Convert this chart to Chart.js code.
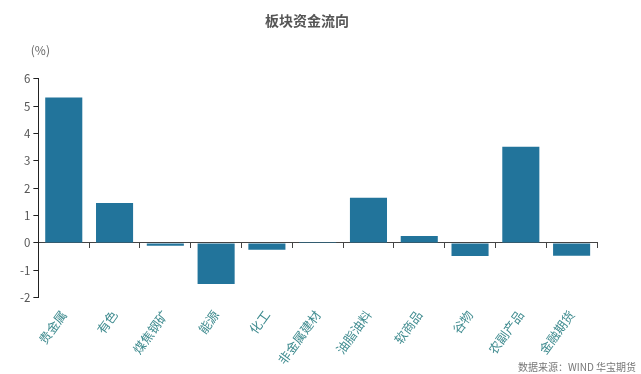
<!DOCTYPE html>
<html>
<head>
<meta charset="utf-8">
<script src="https://cdn.jsdelivr.net/npm/chart.js@4"></script>
<style>
  html, body { margin: 0; padding: 0; background: #fff; }
  .chart { width: 641px; height: 374px; position: relative; }
</style>
</head>
<body>
<div class="chart"><canvas id="chart"></canvas></div>
<script>
const sectors = ['贵金属', '有色', '煤焦钢矿', '能源', '化工', '非金属建材', '油脂油料', '软商品', '谷物', '农副产品', '金融期货']
const flows = [5.32, 1.46, -0.1, -1.5, -0.25, 0.03, 1.65, 0.25, -0.48, 3.52, -0.47]
const yTicks = [-2, -1, 0, 1, 2, 3, 4, 5, 6]

const font = '"Noto Sans CJK SC", "Noto Sans", sans-serif'

// "(%)" over the y axis and the source note at the bottom right
const extraText = {
  id: 'extraText',
  afterDraw(chart) {
    const { ctx, scales } = chart
    ctx.save()
    ctx.font = `12px ${font}`
    ctx.fillStyle = '#666'
    ctx.textAlign = 'center'
    ctx.textBaseline = 'middle'
    ctx.fillText('(%)', scales.y.right + 2, scales.y.top - 28)

    ctx.font = `10px ${font}`
    ctx.fillStyle = '#777'
    ctx.textAlign = 'right'
    ctx.fillText('数据来源：WIND 华宝期货', chart.width - 5, chart.height - 7)
    ctx.restore()
  },
}

new Chart(document.getElementById('chart'), {
  type: 'bar',
  data: {
    labels: sectors,
    datasets: [{
      data: flows,
      backgroundColor: '#22749b',
      categoryPercentage: 1,
      barPercentage: 0.73,
    }],
  },
  options: {
    responsive: true,
    maintainAspectRatio: false,
    animation: false,
    layout: { padding: { top: 6, left: 17, right: 44, bottom: 5 } },
    plugins: {
      legend: { display: false },
      tooltip: { enabled: false },
      title: {
        display: true,
        text: '板块资金流向',
        color: '#555',
        font: { family: font, size: 14, weight: 'bold' },
        padding: { top: 6, bottom: 50 },
      },
    },
    scales: {
      x: {
        position: { y: 0 },
        offset: true,
        grid: { display: true, drawOnChartArea: false, drawTicks: true, tickLength: 5, color: '#444' },
        border: { display: true, color: '#444' },
        ticks: { display: false },
      },
      x2: {
        type: 'category',
        position: 'bottom',
        offset: true,
        grid: { display: false },
        border: { display: false },
        ticks: {
          color: '#3f8b8f',
          minRotation: 54,
          maxRotation: 54,
          autoSkip: false,
          padding: 2,
          font: { family: font, size: 12.5 },
        },
      },
      y: {
        min: -2,
        max: 6,
        afterBuildTicks(scale) {
          scale.ticks = yTicks.map(v => ({ value: v }))
        },
        grid: { display: true, drawOnChartArea: false, drawTicks: true, tickLength: 5, color: '#222' },
        border: { display: true, color: '#222' },
        ticks: {
          color: '#555',
          padding: 3,
          font: { family: font, size: 11.5 },
        },
      },
    },
  },
  plugins: [extraText],
})
</script>
</body>
</html>
